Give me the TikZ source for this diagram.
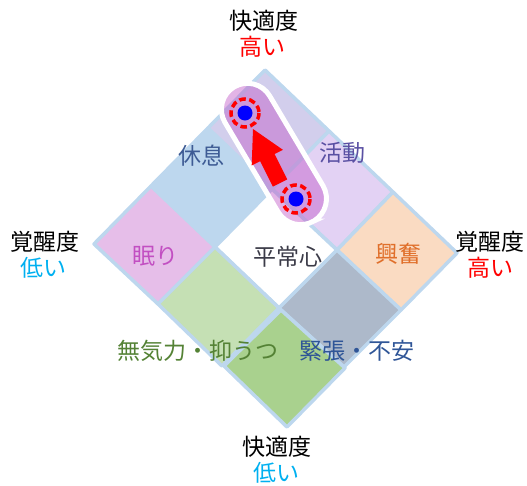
\documentclass[tikz,border=0pt]{standalone}
\usepackage{fontspec}
\newfontfamily\jp{Noto Sans CJK JP}
\definecolor{tileborder}{HTML}{BDD7EE}
\definecolor{cblue}{HTML}{BDD7EE}
\definecolor{clav}{HTML}{D2CEEC}
\definecolor{cpurple}{HTML}{E3D2F4}
\definecolor{cpeach}{HTML}{FADBC2}
\definecolor{cgrey}{HTML}{ADB9CA}
\definecolor{cpink}{HTML}{E6BEE9}
\definecolor{clgreen}{HTML}{C5E0B4}
\definecolor{cdgreen}{HTML}{A9D18E}
\definecolor{capsule}{HTML}{C159C8}
\definecolor{tblue}{HTML}{3D5B94}
\definecolor{tpurple}{HTML}{5A50A3}
\definecolor{tpink}{HTML}{C24FC2}
\definecolor{tdark}{HTML}{3B3B48}
\definecolor{torange}{HTML}{E06F2A}
\definecolor{tgreen}{HTML}{548235}
\definecolor{tnavy}{HTML}{2F5597}
\definecolor{hired}{HTML}{FF0000}
\definecolor{locyan}{HTML}{00B0F0}
\begin{document}
\begin{tikzpicture}[x=1pt,y=-1pt,
  tile/.style={draw=tileborder, line width=3.5pt, line join=round},
  lbl/.style={font=\jp\fontsize{23}{26}\selectfont, inner sep=0pt},
  dotring/.style={draw=hired, line width=3.5pt, dash pattern=on 6.5pt off 3.5pt},
  dotcore/.style={fill=blue, draw=none},
]
\useasboundingbox (0,0) rectangle (527,485);
% tiles
\draw[tile, fill=cblue]   (208,128) -- (272,189) -- (215,247) -- (151,186) -- cycle;
\draw[tile, fill=clav]    (265,70) -- (329,131) -- (272,189) -- (208,128) -- cycle;
\draw[tile, fill=cpurple] (329,131) -- (393,192) -- (337,250) -- (272,189) -- cycle;
\draw[tile, fill=cpeach]  (393,192) -- (457,253) -- (401,310) -- (337,250) -- cycle;
\draw[tile, fill=white]   (272,189) -- (337,250) -- (279,308) -- (215,247) -- cycle;
\draw[tile, fill=cgrey]   (337,250) -- (401,310) -- (344,367) -- (279,308) -- cycle;
\draw[tile, fill=cpink]   (151,186) -- (215,247) -- (158,304) -- (94,244) -- cycle;
\draw[tile, fill=clgreen] (215,247) -- (279,308) -- (222,366) -- (158,304) -- cycle;
\draw[tile, fill=cdgreen] (281,310) -- (345,368) -- (287,427) -- (224,366) -- cycle;
% tile labels
\node[lbl, text=tblue]   (rest)   at (201,156) {休息};
\node[lbl, text=tpurple] (active) at (342,153) {活動};
\node[lbl, text=tpink]   (sleep)  at (155,256) {眠り};
\node[lbl, text=tdark]   (calm)   at (288,257) {平常心};
\node[lbl, text=torange] (excite) at (398,254) {興奮};
\node[lbl, text=tgreen]  (apathy) at (198,351) {無気力・抑うつ};
\node[lbl, text=tnavy]   (tense)  at (357,351) {緊張・不安};
% axis labels
\node[lbl] (ctop)  at (264,21) {快適度};
\node[lbl, text=hired] (ctophi) at (262,47) {高い};
\node[lbl] (aleft) at (45,242) {覚醒度};
\node[lbl, text=locyan] (alefttlo) at (43,268) {低い};
\node[lbl] (aright) at (490,242) {覚醒度};
\node[lbl, text=hired] (arighthi) at (490,268) {高い};
\node[lbl] (cbot) at (277,447) {快適度};
\node[lbl, text=locyan] (cbotlo) at (276,473) {低い};
% capsule
\coordinate (p1) at (245,113);
\coordinate (p2) at (296,199);
\begin{scope}[shift={(248.4,111)}, rotate=-59.3]
  \fill[capsule, opacity=0.45, rounded corners=26pt] (-28,-26) rectangle (128,26);
  \draw[white, line width=5pt, rounded corners=26pt] (-28,-26) rectangle (128,26);
\end{scope}
% arrow
\fill[hired] (253,129) -- (282.9,149.8) -- (274.5,154.0) -- (287.2,179.4)
  -- (272.8,186.6) -- (260.1,161.2) -- (251.7,165.4) -- cycle;
% dots
\draw[dotring] (p1) circle[radius=14];
\fill[dotcore] (p1) circle[radius=7.5];
\draw[dotring] (p2) circle[radius=14];
\fill[dotcore] (p2) circle[radius=7.5];
\end{tikzpicture}
\end{document}
